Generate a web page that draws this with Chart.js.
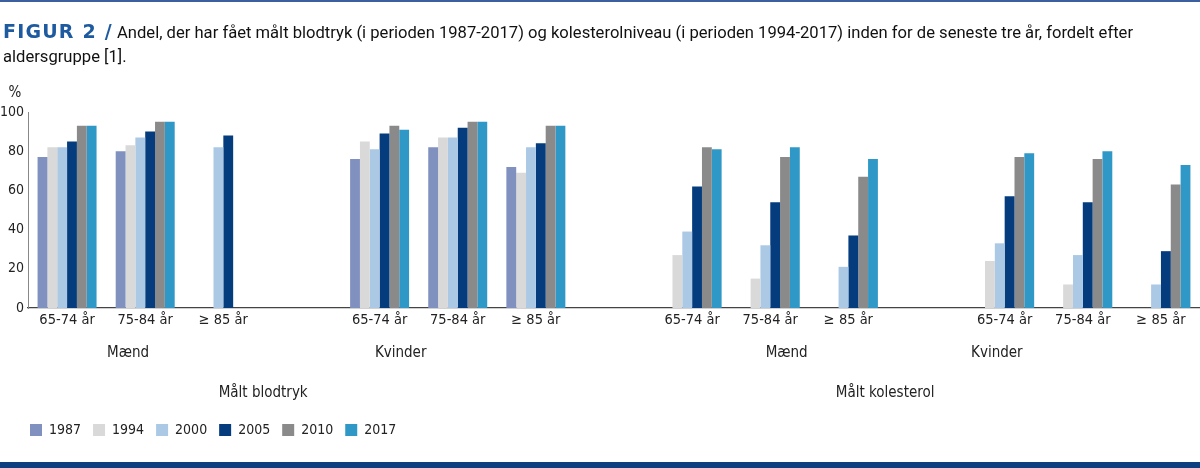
<!DOCTYPE html>
<html>
<head>
<meta charset="utf-8">
<script src="https://cdn.jsdelivr.net/npm/chart.js@4/dist/chart.umd.min.js"></script>
<style>
  body { margin: 0; background: #fff; overflow: hidden; }
  #wrap { position: relative; width: 1200px; height: 468px; }
  #chartBox { position: absolute; left: 0; top: 0; width: 1200px; height: 468px; }
  #topline { position: absolute; left: 0; top: 0; width: 1200px; height: 2px; background: #3d5f9f; }
  #titulo { position: absolute; left: 3px; top: 19px; width: 1195px; font-family: Roboto, sans-serif; font-size: 16.6px; line-height: 24px; color: #111; }
  #titulo b { font-family: "DejaVu Sans", sans-serif; font-size: 19px; letter-spacing: 1.2px; color: #1e5aa0; }
  #bundlinje { position: absolute; left: 0; top: 462px; width: 1200px; height: 6px; background: #0d3f80; }
</style>
</head>
<body>
<div id="wrap">
  <div id="chartBox"><canvas id="graficoFigur"></canvas></div>
  <div id="topline"></div>
  <div id="titulo"><b>FIGUR 2 /</b> Andel, der har fået målt blodtryk (i perioden 1987-2017) og kolesterolniveau (i perioden 1994-2017) inden for de seneste tre år, fordelt efter<br>aldersgruppe [1].</div>
  <div id="bundlinje"></div>
</div>
<script>
const canvasFigur = document.getElementById('graficoFigur');

// kategorier (tomme pladser = mellemrum mellem grupper)
const aldersgrupper = ['65-74 år', '75-84 år', '≥ 85 år', '',
  '65-74 år', '75-84 år', '≥ 85 år', '',
  '65-74 år', '75-84 år', '≥ 85 år', '',
  '65-74 år', '75-84 år', '≥ 85 år'];

// værdier i %
const v1987 = [77, 80, null, null, 76, 82, 72, null, null, null, null, null, null, null, null];
const v1994 = [82, 83, null, null, 85, 87, 69, null, 27, 15, null, null, 24, 12, null];
const v2000 = [82, 87, 82, null, 81, 87, 82, null, 39, 32, 21, null, 33, 27, 12];
const v2005 = [85, 90, 88, null, 89, 92, 84, null, 62, 54, 37, null, 57, 54, 29];
const v2010 = [93, 95, null, null, 93, 95, 93, null, 82, 77, 67, null, 77, 76, 63];
const v2017 = [93, 95, null, null, 91, 95, 93, null, 81, 82, 76, null, 79, 80, 73];

const yTicks = [0, 20, 40, 60, 80, 100];

const kon = ['Mænd', 'Kvinder', 'Mænd', 'Kvinder'];
const maaling = ['Målt blodtryk', 'Målt kolesterol'];

// placering af gruppe-tekster (som kategori-indeks)
const konPlads = [0.78, 4.27, 9.21, 11.9];
const maalingPlads = [2.51, 10.47];

const narrow = '"Liberation Sans Narrow", "DejaVu Sans Condensed", sans-serif';

const grupTekster = {
  id: 'grupTekster',
  afterLayout(chart) {
    chart.legend.left += 18; // legenden starter lidt inde
  },
  afterDraw(chart) {
    const ctx = chart.ctx;
    const x = chart.scales.x;
    const area = chart.chartArea;
    ctx.save();
    ctx.fillStyle = '#222';
    ctx.font = '15px ' + narrow;
    ctx.textAlign = 'center';
    ctx.textBaseline = 'middle';
    kon.forEach((t, i) => ctx.fillText(t, x.getPixelForValue(konPlads[i]), area.bottom + 45));
    maaling.forEach((t, i) => ctx.fillText(t, x.getPixelForValue(maalingPlads[i]), area.bottom + 85));
    ctx.fillText('%', area.left - 13, area.top - 19);
    ctx.restore();
  },
};

function serie(navn, data, farve) {
  return { label: navn, data: data, backgroundColor: farve, borderWidth: 0 };
}

const barChart = new Chart(canvasFigur, {
  type: 'bar',
  data: {
    labels: aldersgrupper,
    datasets: [
      serie('1987', v1987, '#8090bf'),
      serie('1994', v1994, '#d9d9d9'),
      serie('2000', v2000, '#abc9e4'),
      serie('2005', v2005, '#053c7e'),
      serie('2010', v2010, '#8a8a8a'),
      serie('2017', v2017, '#2f98c7'),
    ],
  },
  options: {
    responsive: true,
    maintainAspectRatio: false,
    animation: false,
    layout: { padding: { top: 112, left: 0, right: 0, bottom: 21 } },
    datasets: { bar: { categoryPercentage: 0.755, barPercentage: 1 } },
    plugins: {
      tooltip: { enabled: false },
      legend: {
        position: 'bottom',
        align: 'start',
        labels: {
          boxWidth: 12,
          boxHeight: 12,
          padding: 12,
          color: '#222',
          font: { size: 14, family: narrow },
        },
      },
    },
    scales: {
      x: {
        grid: { display: false, drawTicks: false },
        border: { color: '#444', width: 1.3 },
        ticks: { padding: 4, color: '#222', font: { size: 14.5, family: narrow }, maxRotation: 0, autoSkip: false },
        afterFit: function (scale) { scale.height = 103; },
      },
      y: {
        min: 0,
        max: 100,
        grid: { display: false, drawTicks: false },
        border: { color: '#888', width: 1 },
        afterBuildTicks: function (scale) { scale.ticks = yTicks.map(v => ({ value: v })); },
        ticks: { padding: 4, color: '#222', font: { size: 14, family: narrow } },
        afterFit: function (scale) { scale.width = 28; },
      },
    },
  },
  plugins: [grupTekster],
});
</script>
</body>
</html>
